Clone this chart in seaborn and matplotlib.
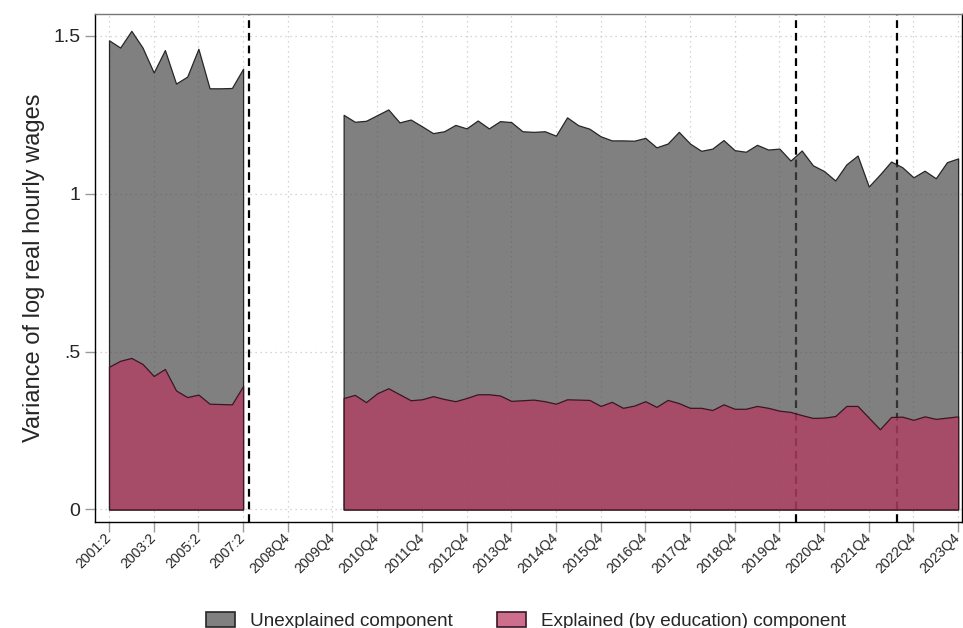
import numpy as np
import pandas as pd
import matplotlib
matplotlib.use("Agg")
import matplotlib.pyplot as plt
import seaborn as sns
from matplotlib.patches import Patch

# Semester observations, 2001:2 - 2007:2
periods_a = ["2001:2", "2002:1", "2002:2", "2003:1", "2003:2", "2004:1", "2004:2",
             "2005:1", "2005:2", "2006:1", "2006:2", "2007:1", "2007:2"]
explained_a = [0.452, 0.471, 0.480, 0.461, 0.423, 0.445, 0.377,
               0.356, 0.364, 0.335, 0.334, 0.333, 0.391]
unexplained_a = [1.034, 0.992, 1.036, 1.002, 0.961, 1.010, 0.972,
                 1.015, 1.095, 0.999, 1.000, 1.002, 1.005]

# Quarterly observations, 2010Q1 - 2023Q4
periods_b = [f"{y}Q{q}" for y in range(2010, 2024) for q in range(1, 5)]
explained_b = [0.353, 0.363, 0.340, 0.368, 0.384, 0.365, 0.346, 0.349,
               0.359, 0.350, 0.343, 0.353, 0.365, 0.365, 0.361, 0.344,
               0.346, 0.348, 0.343, 0.335, 0.349, 0.348, 0.347, 0.328,
               0.341, 0.322, 0.329, 0.343, 0.325, 0.347, 0.337, 0.322,
               0.322, 0.315, 0.333, 0.319, 0.319, 0.328, 0.322, 0.313,
               0.309, 0.299, 0.290, 0.291, 0.296, 0.328, 0.328, 0.291,
               0.254, 0.293, 0.294, 0.284, 0.295, 0.287, 0.291, 0.295]
unexplained_b = [0.897, 0.865, 0.891, 0.881, 0.883, 0.861, 0.889, 0.865,
                 0.833, 0.848, 0.875, 0.854, 0.867, 0.842, 0.869, 0.883,
                 0.852, 0.848, 0.855, 0.849, 0.893, 0.869, 0.859, 0.854,
                 0.828, 0.847, 0.839, 0.834, 0.822, 0.812, 0.859, 0.837,
                 0.814, 0.828, 0.837, 0.819, 0.814, 0.827, 0.818, 0.830,
                 0.796, 0.838, 0.800, 0.781, 0.746, 0.765, 0.793, 0.732,
                 0.807, 0.809, 0.790, 0.768, 0.778, 0.762, 0.809, 0.817]

tick_labels = ["2001:2", "2003:2", "2005:2", "2007:2", "2008Q4", "2009Q4",
               "2010Q4", "2011Q4", "2012Q4", "2013Q4", "2014Q4", "2015Q4",
               "2016Q4", "2017Q4", "2018Q4", "2019Q4", "2020Q4", "2021Q4",
               "2022Q4", "2023Q4"]
y_ticks = [0, 0.5, 1, 1.5]
y_tick_labels = ["0", ".5", "1", "1.5"]

# Survey redesign breaks, placed between consecutive periods
break_after = ["2007:2", "2020Q1", "2022Q2"]

legend_labels = ["Unexplained component", "Explained (by education) component"]


def period_index(p):
    """Running observation counter used as the x variable."""
    if ":" in p:
        y, s = p.split(":")
        return (int(y) - 2001) * 2 + (int(s) - 2)
    y, q = p.split("Q")
    return 24 + (int(y) - 2010) * 4 + (int(q) - 4)


def frame(periods, expl, unexpl):
    df = pd.DataFrame({"period": periods, "explained": expl, "unexplained": unexpl})
    df["t"] = df["period"].map(period_index)
    df["total"] = df["explained"] + df["unexplained"]
    return df


segments = [frame(periods_a, explained_a, unexplained_a),
            frame(periods_b, explained_b, unexplained_b)]

sns.set_theme(style="white")
plt.rcParams["font.family"] = ["Liberation Sans", "DejaVu Sans"]

fig = plt.figure(figsize=(9.63, 6.28), dpi=100)
ax = fig.add_axes([0.0987, 0.1688, 0.9003, 0.809])

gray_face = (0.29, 0.29, 0.29, 0.7)
pink_face = (0.725, 0.212, 0.369, 0.7)

for df in segments:
    ax.fill_between(df["t"], 0, df["total"], facecolor=gray_face,
                    edgecolor="#262626", linewidth=0.9, zorder=3)
    ax.fill_between(df["t"], 0, df["explained"], facecolor=pink_face,
                    edgecolor="#3a1624", linewidth=0.9, zorder=4)

for p in break_after:
    ax.axvline(period_index(p) + 0.5, color="black", linestyle=(0, (3.5, 2.2)),
               linewidth=1.6, zorder=2)

x_ticks = [period_index(l) for l in tick_labels]
ax.set_xticks(x_ticks)
ax.set_xticklabels(tick_labels, rotation=45, ha="right", va="center",
                   rotation_mode="anchor", fontsize=10.2)
ax.set_yticks(y_ticks)
ax.set_yticklabels(y_tick_labels, fontsize=14)

ax.set_xlim(-1.25, 76.35)
ax.set_ylim(-0.0396, 1.5695)

ax.grid(True, axis="both", color="#c8c8c8", linestyle=(0, (1, 3)), linewidth=0.9, zorder=1)
ax.set_axisbelow(True)

ax.tick_params(axis="both", which="major", direction="out", length=7,
               width=1, color="#999999", left=True, bottom=True)
ax.tick_params(axis="x", pad=3)
ax.tick_params(axis="y", pad=3.5)
for side in ["left", "bottom", "top", "right"]:
    ax.spines[side].set_visible(True)
    ax.spines[side].set_color("black")
    ax.spines[side].set_linewidth(1.0)
ax.spines["top"].set_color("#777777")

ax.set_ylabel("Variance of log real hourly wages", fontsize=17, labelpad=6)

handles = [Patch(facecolor=(0.5, 0.5, 0.5, 1.0), edgecolor="#262626", linewidth=1.2),
           Patch(facecolor=(0.80, 0.43, 0.55, 1.0), edgecolor="#3a1624", linewidth=1.2)]
fig.legend(handles, legend_labels, loc="center", bbox_to_anchor=(526 / 963, 1 - 621 / 628),
           ncol=2, frameon=False, fontsize=13.6, handlelength=1.55, handleheight=0.8,
           columnspacing=2.3, handletextpad=0.8)

fig.savefig("out.png", dpi=100)
